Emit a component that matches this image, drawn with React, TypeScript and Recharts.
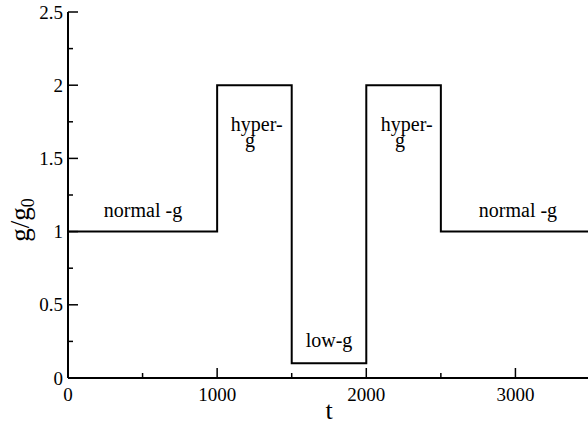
import { LineChart, Line, XAxis, YAxis, ReferenceDot, Label } from 'recharts'

// g-load profile: value holds from each time until the next one
const times = [0, 1000, 1500, 2000, 2500, 3500]
const gValues = [1, 2, 0.1, 2, 1, 1]

const xTicks = [0, 500, 1000, 1500, 2000, 2500, 3000, 3500]
const xTickLabels = ['0', '', '1000', '', '2000', '', '3000', '']
const yTicks = [0, 0.25, 0.5, 0.75, 1, 1.25, 1.5, 1.75, 2, 2.25, 2.5]
const yTickLabels = ['0', '', '0.5', '', '1', '', '1.5', '', '2', '', '2.5']

// phase annotations (data coordinates of the text baseline centre)
const noteText = ['normal -g', 'hyper-', 'g', 'low-g', 'hyper-', 'g', 'normal -g']
const noteT = [503, 1265, 1220, 1750, 2271, 2226, 3017]
const noteG = [1.1, 1.689, 1.58, 0.212, 1.689, 1.58, 1.1]

const data = times.map((t, i) => ({ t, g: gValues[i] }))
const notes = noteText.map((text, i) => ({ text, t: noteT[i], g: noteG[i] }))

const FONT = 'Liberation Serif, Times New Roman, serif'
const txt = { fontFamily: FONT }

function isMajor(ticks: number[], labels: string[], v: number) {
  const i = ticks.indexOf(v)
  return i >= 0 && labels[i] !== ''
}

function BottomTick(p: any) {
  const v = p.payload.value
  const i = xTicks.indexOf(v)
  const len = isMajor(xTicks, xTickLabels, v) ? 10 : 5
  return (
    <g>
      <line x1={p.x} x2={p.x} y1={p.y} y2={p.y - len} stroke="#000" strokeWidth={1.5} />
      {xTickLabels[i] && (
        <text x={p.x} y={p.y + 22.5} textAnchor="middle" fontSize={19} style={txt} fill="#000">
          {xTickLabels[i]}
        </text>
      )}
    </g>
  )
}

function TopTick(p: any) {
  const len = isMajor(xTicks, xTickLabels, p.payload.value) ? 10 : 5
  return <line x1={p.x} x2={p.x} y1={p.y} y2={p.y + len} stroke="#000" strokeWidth={1.5} />
}

function LeftTick(p: any) {
  const v = p.payload.value
  const i = yTicks.indexOf(v)
  const len = isMajor(yTicks, yTickLabels, v) ? 10 : 5
  return (
    <g>
      <line x1={p.x} x2={p.x + len} y1={p.y} y2={p.y} stroke="#000" strokeWidth={1.5} />
      {yTickLabels[i] && (
        <text x={p.x - 5} y={p.y + 6.5} textAnchor="end" fontSize={19} style={txt} fill="#000">
          {yTickLabels[i]}
        </text>
      )}
    </g>
  )
}

function RightTick(p: any) {
  const len = isMajor(yTicks, yTickLabels, p.payload.value) ? 10 : 5
  return <line x1={p.x} x2={p.x - len} y1={p.y} y2={p.y} stroke="#000" strokeWidth={1.5} />
}

const axisLine = { stroke: '#000', strokeWidth: 2 }

export default function App() {
  return (
    <div
      style={{
        position: 'absolute',
        left: 0,
        top: 0,
        width: 588,
        height: 424,
        overflow: 'hidden',
        background: '#fff',
        fontFamily: FONT,
      }}
    >
      <LineChart width={600} height={424} data={data} margin={{ top: 12, right: 10, bottom: 0, left: 0 }}>
        <XAxis
          xAxisId="b"
          dataKey="t"
          type="number"
          domain={[0, 3500]}
          ticks={xTicks}
          interval={0}
          height={46}
          tickSize={0}
          tickMargin={0}
          axisLine={axisLine}
          tickLine={false}
          tick={(p: any) => <BottomTick {...p} />}
        >
          <Label
            content={({ viewBox }: any) => (
              <text
                x={viewBox.x + viewBox.width / 2}
                y={viewBox.y + 41}
                textAnchor="middle"
                fontSize={26}
                style={txt}
                fill="#000"
              >
                t
              </text>
            )}
          />
        </XAxis>
        <XAxis
          xAxisId="top"
          orientation="top"
          dataKey="t"
          type="number"
          domain={[0, 3500]}
          ticks={xTicks}
          interval={0}
          height={0}
          tickSize={0}
          tickMargin={0}
          axisLine={axisLine}
          tickLine={false}
          tick={(p: any) => <TopTick {...p} />}
        />
        <YAxis
          yAxisId="l"
          type="number"
          domain={[0, 2.5]}
          ticks={yTicks}
          interval={0}
          width={68}
          tickSize={0}
          tickMargin={0}
          axisLine={axisLine}
          tickLine={false}
          tick={(p: any) => <LeftTick {...p} />}
        >
          <Label
            content={({ viewBox }: any) => {
              const cx = 29
              const cy = viewBox.y + viewBox.height / 2 + 25
              return (
                <text
                  x={cx}
                  y={cy}
                  transform={`rotate(-90, ${cx}, ${cy})`}
                  textAnchor="middle"
                  fontSize={27}
                  style={txt}
                  fill="#000"
                >
                  g/g
                  <tspan fontSize={18} dy={5}>0</tspan>
                </text>
              )
            }}
          />
        </YAxis>
        <YAxis
          yAxisId="r"
          orientation="right"
          type="number"
          domain={[0, 2.5]}
          ticks={yTicks}
          interval={0}
          width={0}
          tickSize={0}
          tickMargin={0}
          axisLine={axisLine}
          tickLine={false}
          tick={(p: any) => <RightTick {...p} />}
        />
        <Line
          xAxisId="b"
          yAxisId="l"
          type="stepAfter"
          dataKey="g"
          stroke="#000"
          strokeWidth={2}
          dot={false}
          isAnimationActive={false}
        />
        {notes.map((n, i) => (
          <ReferenceDot
            key={i}
            xAxisId="b"
            yAxisId="l"
            x={n.t}
            y={n.g}
            r={1}
            fill="none"
            stroke="none"
            label={{
              content: ({ viewBox }: any) => (
                <text
                  x={viewBox.x + viewBox.width / 2}
                  y={viewBox.y + viewBox.height / 2}
                  textAnchor="middle"
                  fontSize={20}
                  style={txt}
                  fill="#000"
                >
                  {n.text}
                </text>
              ),
            }}
          />
        ))}
      </LineChart>
    </div>
  )
}
